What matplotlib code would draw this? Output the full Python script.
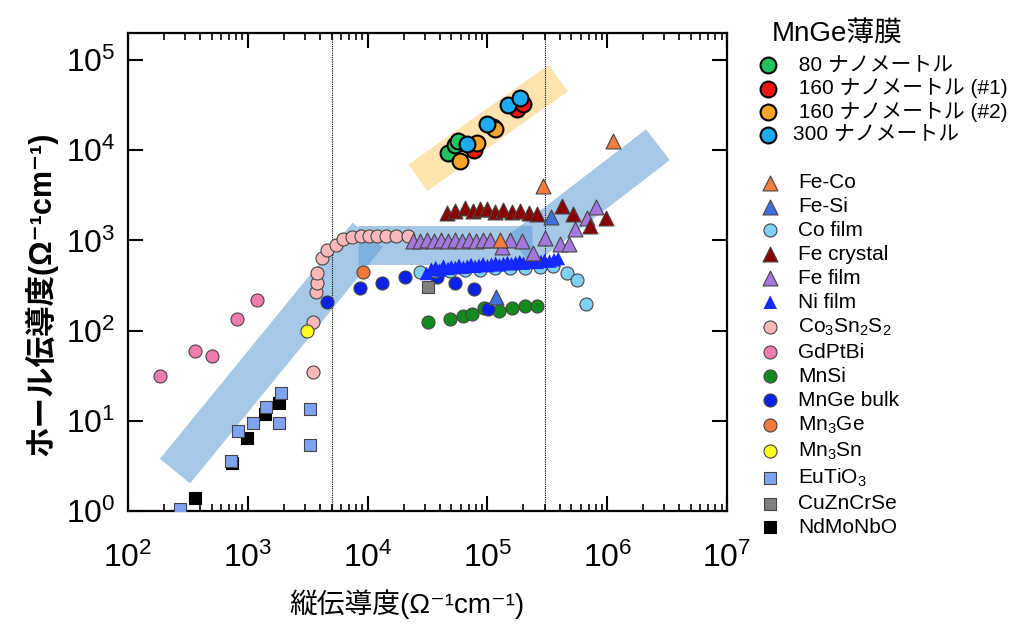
import matplotlib
matplotlib.use('Agg')
import matplotlib.pyplot as plt
from matplotlib.ticker import NullLocator

plt.rcParams['font.family'] = ['Liberation Sans', 'Noto Sans CJK JP', 'DejaVu Sans']
plt.rcParams['mathtext.fontset'] = 'custom'
plt.rcParams['mathtext.rm'] = 'Liberation Sans'
plt.rcParams['mathtext.it'] = 'Liberation Sans:italic'
plt.rcParams['mathtext.default'] = 'regular'

# MnGe thin films (x: longitudinal, y: Hall conductivity)
film80_x = [4.69e4, 5.37e4, 5.69e4]
film80_y = [9.36e3, 1.15e4, 1.27e4]
film160a_x = [7.73e4, 1.77e5, 1.98e5]
film160a_y = [1.01e4, 2.87e4, 3.26e4]
film160b_x = [5.9e4, 8.18e4, 1.11e5, 1.16e5]
film160b_y = [7.63e3, 1.21e4, 1.81e4, 1.73e4]
film300_x = [6.76e4, 9.93e4, 1.49e5, 1.87e5]
film300_y = [1.18e4, 1.96e4, 3.18e4, 3.8e4]

feco_x = [1.12e6, 2.91e5, 1.27e5]
feco_y = [1.27e4, 4.04e3, 1.02e3]
fesi_x = [3.4e5, 1.18e5]
fesi_y = [1.83e3, 233]
cofilm_x = [2.74e4, 3.65e4, 4.87e4, 6.51e4, 8.68e4, 1.16e5, 1.55e5, 2.06e5, 2.75e5, 3.53e5, 4.62e5, 5.59e5, 6.65e5]
cofilm_y = [452, 463, 463, 475, 475, 488, 488, 500, 513, 526, 440, 368, 195]
fecrys_x = [4.6e4, 5.37e4, 6.51e4, 7.58e4, 8.68e4, 9.93e4, 1.16e5, 1.35e5, 1.6e5, 1.87e5, 2.22e5, 2.59e5,
            4.2e5, 5.19e5, 7.18e5, 9.77e5]
fecrys_y = [2031, 2137, 2307, 2137, 2249, 2249, 2083, 2193, 2083, 2137, 2031, 1978,
            2427, 1978, 1458, 1787]
fefilm_x = [2.39e4, 2.74e4, 3.13e4, 3.58e4, 4.1e4, 4.69e4, 5.37e4, 6.14e4, 7.02e4, 8.03e4, 9.19e4, 1.05e5,
            1.33e5, 1.55e5, 1.95e5, 2.4e5, 3.03e5, 4.04e5, 4.8e5, 5.38e5, 6.78e5, 8.05e5]
fefilm_y = [995, 980, 1000, 990, 1005, 985, 1000, 995, 1010, 990, 1000, 1005,
            854, 1020, 995, 733, 1074, 922, 922, 1352, 1787, 2366]
nifilm_x = [3.1e4, 3.4e4, 3.7e4, 4.0e4, 4.3e4, 4.7e4, 5.0e4, 5.4e4, 5.8e4, 6.3e4, 6.8e4, 7.3e4, 7.9e4,
            8.5e4, 9.2e4, 1.0e5, 1.08e5, 1.17e5, 1.26e5, 1.36e5, 1.47e5, 1.59e5, 1.72e5, 1.86e5, 2.0e5,
            2.2e5, 2.4e5, 2.6e5, 2.8e5, 3.0e5, 3.3e5, 3.6e5, 3.9e5]
nifilm_y = [430, 480, 500, 470, 520, 490, 510, 500, 530, 505, 520, 540, 515, 530, 550, 525, 545, 560,
            535, 555, 570, 550, 565, 580, 560, 575, 590, 570, 585, 600, 590, 610, 630]
cosns_x = [3.5e3, 3.5e3, 3.71e3, 3.78e3, 3.78e3, 4.16e3, 4.58e3, 5.45e3, 6.23e3, 7.41e3, 8.82e3,
           1.03e4, 1.2e4, 1.42e4, 1.73e4, 2.17e4]
cosns_y = [34.5, 126, 265, 341, 440, 645, 791, 899, 1047, 1102, 1130, 1130, 1130, 1130, 1130, 1130]
gdptbi_x = [185, 362, 502, 813, 1190]
gdptbi_y = [31.2, 58.9, 51.8, 136, 221]
mnsi_x = [3.19e4, 4.87e4, 6.26e4, 7.43e4, 9.37e4, 1.25e5, 1.6e5, 2.06e5, 2.59e5]
mnsi_y = [123, 133, 144, 151, 176, 167, 176, 185, 185]
mngebulk_x = [4.58e3, 8.65e3, 1.32e4, 2.05e4, 3.79e4, 5.37e4, 7.73e4, 1.01e5]
mngebulk_y = [210, 293, 341, 388, 388, 341, 286, 172]
mn3ge_x = [9.16e3]
mn3ge_y = [452]
mn3sn_x = [3.12e3]
mn3sn_y = [98]
eutio_x = [272, 724, 829, 1100, 1420, 1890, 1820, 3300, 3300]
eutio_y = [1.05, 3.57, 7.67, 9.4, 14.1, 20.2, 9.4, 13.4, 5.37]
cuzn_x = [3.19e4]
cuzn_y = [308]
ndmo_x = [362, 738, 985, 1390, 1820]
ndmo_y = [1.39, 3.40, 6.42, 11.8, 15.7]

# guide bands (end points) and boundaries
band_low = ([247, 1.0e4], [2.77, 1.15e3])
band_flat = ([8.32e3, 2.35e5], [887, 887])
band_high = ([1.87e5, 2.65e6], [771, 1.15e4])
band_film = ([2.63e4, 3.9e5], [4.95e3, 6.3e4])
bounds = [5e3, 3e5]

fig = plt.figure(figsize=(10.24, 6.32), dpi=100)
ax = fig.add_axes([0.125, 0.1915, 0.585, 0.7565])
ax.set_xscale('log')
ax.set_yscale('log')
ax.set_xlim(1e2, 1e7)
ax.set_ylim(1, 2e5)

for b in [band_low, band_flat, band_high]:
    ax.plot(b[0], b[1], lw=28, color='#5B9BD5', alpha=0.55, solid_capstyle='butt', zorder=0.5)
ax.plot(band_film[0], band_film[1], lw=23.5, color='#FDE3AE', solid_capstyle='butt', zorder=0.5)

for b in bounds:
    ax.axvline(b, color='k', ls=(0, (1, 1)), lw=0.8, zorder=1)

ec = '#444444'
small = 88
tri = 115
sq = 85

h = {}
h['NdMoNbO'] = ax.scatter(ndmo_x, ndmo_y, s=sq, marker='s', c='black', edgecolors='black', lw=0.8, zorder=3)
h['EuTiO$_3$'] = ax.scatter(eutio_x, eutio_y, s=sq, marker='s', c='#7FA2F2', edgecolors=ec, lw=0.8, zorder=3)
h['GdPtBi'] = ax.scatter(gdptbi_x, gdptbi_y, s=small, c='#F27CAD', edgecolors=ec, lw=0.8, zorder=3)
h['Co$_3$Sn$_2$S$_2$'] = ax.scatter(cosns_x, cosns_y, s=small, c='#FBB8B8', edgecolors=ec, lw=0.8, zorder=3)
h['MnSi'] = ax.scatter(mnsi_x, mnsi_y, s=small, c='#138A1E', edgecolors=ec, lw=0.8, zorder=3)
h['MnGe bulk'] = ax.scatter(mngebulk_x, mngebulk_y, s=small, c='#0A22E8', edgecolors=ec, lw=0.8, zorder=3)
h['Mn$_3$Ge'] = ax.scatter(mn3ge_x, mn3ge_y, s=small, c='#F07A3A', edgecolors=ec, lw=0.8, zorder=3)
h['Mn$_3$Sn'] = ax.scatter(mn3sn_x, mn3sn_y, s=small, c='#FFFF22', edgecolors=ec, lw=0.8, zorder=3)
h['CuZnCrSe'] = ax.scatter(cuzn_x, cuzn_y, s=sq, marker='s', c='#808080', edgecolors=ec, lw=0.8, zorder=3)
h['Co film'] = ax.scatter(cofilm_x, cofilm_y, s=small, c='#7FD2F5', edgecolors=ec, lw=0.8, zorder=3)
h['Ni film'] = ax.scatter(nifilm_x, nifilm_y, s=95, marker='^', c='#1428FF', edgecolors='none', zorder=3)
h['Fe film'] = ax.scatter(fefilm_x, fefilm_y, s=tri, marker='^', c='#A478DC', edgecolors=ec, lw=0.8, zorder=3)
h['Fe crystal'] = ax.scatter(fecrys_x, fecrys_y, s=tri, marker='^', c='#8B0000', edgecolors=ec, lw=0.8, zorder=3)
h['Fe-Si'] = ax.scatter(fesi_x, fesi_y, s=tri, marker='^', c='#3F6FE0', edgecolors=ec, lw=0.8, zorder=3)
h['Fe-Co'] = ax.scatter(feco_x, feco_y, s=tri, marker='^', c='#F47C3C', edgecolors=ec, lw=0.8, zorder=3)

fk = dict(s=130, edgecolors='black', lw=1.5, zorder=4)
f80 = ax.scatter(film80_x, film80_y, c='#22C25F', **fk)
f160a = ax.scatter(film160a_x, film160a_y, c='#F01414', **fk)
f160b = ax.scatter(film160b_x, film160b_y, c='#F7A52A', **fk)
f300 = ax.scatter(film300_x, film300_y, c='#1EAAF1', **fk)

ax.tick_params(which='both', direction='in', top=True, right=True)
ax.tick_params(which='major', length=11, width=1.5, labelsize=23, pad=9)
ax.tick_params(which='minor', length=5, width=1.2)
ax.tick_params(axis='x', which='major', pad=23)
ax.yaxis.set_minor_locator(NullLocator())
for s in ax.spines.values():
    s.set_linewidth(1.6)

ax.set_xlabel('縦伝導度(Ω⁻¹cm⁻¹)', fontsize=20)
ax.set_ylabel('ホール伝導度(Ω⁻¹cm⁻¹)', fontsize=22, fontweight='bold')
ax.xaxis.set_label_coords(0.465, -0.163)
ax.yaxis.set_label_coords(-0.118, 0.455)

fig.text(772 / 1024, 1 - 35 / 632, 'MnGe薄膜', fontsize=20, va='center', ha='left')
fig.legend([f80, f160a, f160b, f300],
           [' 80 ナノメートル', ' 160 ナノメートル (#1)', ' 160 ナノメートル (#2)', '300 ナノメートル'],
           loc='upper left', bbox_to_anchor=(0.740, 0.912), frameon=False,
           fontsize=15, handletextpad=0.7, labelspacing=0.17, borderpad=0,
           borderaxespad=0, handlelength=1.0)

order = ['Fe-Co', 'Fe-Si', 'Co film', 'Fe crystal', 'Fe film', 'Ni film', 'Co$_3$Sn$_2$S$_2$', 'GdPtBi',
         'MnSi', 'MnGe bulk', 'Mn$_3$Ge', 'Mn$_3$Sn', 'EuTiO$_3$', 'CuZnCrSe', 'NdMoNbO']
fig.legend([h[k] for k in order], order, loc='upper left', bbox_to_anchor=(0.742, 0.726),
           frameon=False, fontsize=15, handletextpad=0.85, labelspacing=0.235, borderpad=0,
           borderaxespad=0, handlelength=1.0)

fig.savefig('out.png', dpi=100)
